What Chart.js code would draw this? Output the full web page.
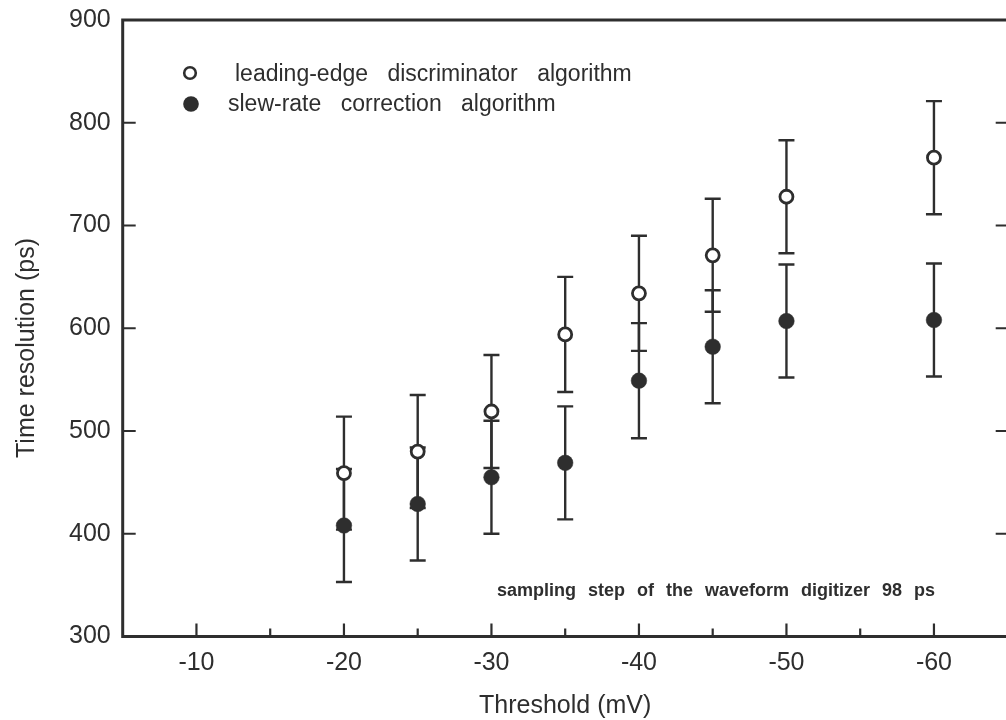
<!DOCTYPE html>
<html><head><meta charset="utf-8">
<script src="https://cdn.jsdelivr.net/npm/chart.js@4/dist/chart.umd.min.js"></script>
<style>html,body{margin:0;padding:0;background:#fff;overflow:hidden;}#wrap{width:1017px;height:720px;}</style>
</head><body><div id="wrap"><canvas id="c" width="1017" height="720"></canvas></div>
<script>
// ---- data ----
const thresholds = [-20, -25, -30, -35, -40, -45, -50, -60];
const leadingEdge = [459, 480, 519, 594, 634, 671, 728, 766];
const leadingErr = [55, 55, 55, 56, 56, 55, 55, 55];
const slewRate = [408, 429, 455, 469, 549, 582, 607, 608];
const slewErr = [55, 55, 55, 55, 56, 55, 55, 55];
const xMajorTicks = [-10, -20, -30, -40, -50, -60];
const xMinorTicks = [-15, -25, -35, -45, -55];
const yTicks = [300, 400, 500, 600, 700, 800, 900];
const seriesLabels = ['leading-edge discriminator algorithm', 'slew-rate correction algorithm'];
const xTitle = 'Threshold (mV)';
const yTitle = 'Time resolution (ps)';
const noteText = 'sampling step of the waveform digitizer 98 ps';

const INK = '#2e2e2e';
const FONT = '"Liberation Sans", Arial, sans-serif';
Chart.defaults.font.family = FONT;
Chart.defaults.color = INK;

const errs = [leadingErr, slewErr];

const decor = {
  id: 'decor',
  beforeDatasetsDraw(chart) {
    const ctx = chart.ctx, xs = chart.scales.x, ys = chart.scales.y;
    ctx.save();
    ctx.strokeStyle = INK; ctx.lineWidth = 2.4; ctx.lineCap = 'butt';
    chart.data.datasets.forEach((ds, di) => {
      ds.data.forEach((p, i) => {
        const e = errs[di][i];
        const px = xs.getPixelForValue(p.x);
        const yt = ys.getPixelForValue(p.y + e), yb = ys.getPixelForValue(p.y - e);
        ctx.beginPath();
        ctx.moveTo(px, yt); ctx.lineTo(px, yb);
        ctx.moveTo(px - 8, yt); ctx.lineTo(px + 8, yt);
        ctx.moveTo(px - 8, yb); ctx.lineTo(px + 8, yb);
        ctx.stroke();
      });
    });
    ctx.restore();
  },
  afterDraw(chart) {
    const ctx = chart.ctx, xs = chart.scales.x, ys = chart.scales.y, a = chart.chartArea;
    ctx.save();
    ctx.strokeStyle = INK; ctx.lineWidth = 3;
    // frame
    ctx.beginPath();
    ctx.moveTo(a.left, a.top); ctx.lineTo(a.right, a.top);
    ctx.moveTo(a.left, a.top - 1.5); ctx.lineTo(a.left, a.bottom + 1.5);
    ctx.moveTo(a.left - 1.5, a.bottom); ctx.lineTo(a.right, a.bottom);
    ctx.moveTo(a.right, a.top); ctx.lineTo(a.right, a.bottom);
    ctx.stroke();
    // ticks
    ctx.lineWidth = 2.2;
    ctx.beginPath();
    xMajorTicks.forEach(v => { const x = xs.getPixelForValue(v); ctx.moveTo(x, a.bottom); ctx.lineTo(x, a.bottom - 13); });
    xMinorTicks.forEach(v => { const x = xs.getPixelForValue(v); ctx.moveTo(x, a.bottom); ctx.lineTo(x, a.bottom - 8); });
    yTicks.forEach(v => {
      const y = ys.getPixelForValue(v);
      ctx.moveTo(a.left, y); ctx.lineTo(a.left + 13, y);
      ctx.moveTo(a.right, y); ctx.lineTo(a.right - 12, y);
    });
    ctx.stroke();
    // y title
    ctx.fillStyle = INK;
    ctx.font = '25px ' + FONT;
    ctx.save();
    ctx.translate(27, 348); ctx.rotate(-Math.PI / 2);
    ctx.textAlign = 'center'; ctx.textBaseline = 'middle';
    ctx.fillText(yTitle, 0, 0);
    ctx.restore();
    // legend
    ctx.font = '23px ' + FONT;
    ctx.textAlign = 'left'; ctx.textBaseline = 'alphabetic';
    try { ctx.wordSpacing = '13px'; } catch (e) {}
    ctx.lineWidth = 2.6;
    ctx.beginPath(); ctx.arc(190, 73, 5.8, 0, Math.PI * 2);
    ctx.fillStyle = '#fff'; ctx.fill(); ctx.stroke();
    ctx.beginPath(); ctx.arc(191, 104, 7.8, 0, Math.PI * 2);
    ctx.fillStyle = INK; ctx.fill();
    ctx.fillText(seriesLabels[0], 235, 80.5);
    ctx.fillText(seriesLabels[1], 228, 110.5);
    // note
    ctx.font = 'bold 18px ' + FONT;
    try { ctx.wordSpacing = '7px'; } catch (e) {}
    ctx.fillText(noteText, 497, 596);
    ctx.restore();
  }
};

new Chart(document.getElementById('c'), {
  type: 'scatter',
  data: {
    datasets: [
      {
        label: seriesLabels[0],
        data: thresholds.map((t, i) => ({ x: t, y: leadingEdge[i] })),
        pointRadius: 6.5, pointBorderWidth: 2.8,
        pointBackgroundColor: '#ffffff', pointBorderColor: INK
      },
      {
        label: seriesLabels[1],
        data: thresholds.map((t, i) => ({ x: t, y: slewRate[i] })),
        pointRadius: 7.8, pointBorderWidth: 0.5,
        pointBackgroundColor: INK, pointBorderColor: INK
      }
    ]
  },
  options: {
    responsive: false, animation: false, devicePixelRatio: 1,
    layout: { padding: { top: 20, right: 6.3, bottom: 0, left: 0 } },
    plugins: { legend: { display: false }, tooltip: { enabled: false } },
    scales: {
      x: {
        type: 'linear', reverse: true, min: -65, max: -5,
        afterBuildTicks: s => { s.ticks = xMajorTicks.map(v => ({ value: v })); },
        afterFit: s => { s.height = 83.5; s.paddingLeft = 0; s.paddingRight = 0; },
        grid: { display: false, drawTicks: false }, border: { display: false },
        ticks: { font: { size: 25 }, color: INK, padding: 12, maxRotation: 0, autoSkip: false },
        title: { display: true, text: xTitle, font: { size: 25 }, color: INK, padding: { top: 0, bottom: -1 } }
      },
      y: {
        type: 'linear', min: 300, max: 900,
        afterBuildTicks: s => { s.ticks = yTicks.map(v => ({ value: v })); },
        afterFit: s => { s.width = 122.7; s.paddingTop = 0; s.paddingBottom = 0; },
        grid: { display: false, drawTicks: false }, border: { display: false },
        ticks: { font: { size: 25 }, color: INK, padding: 12, autoSkip: false }
      }
    }
  },
  plugins: [decor]
});
</script>
</body></html>
